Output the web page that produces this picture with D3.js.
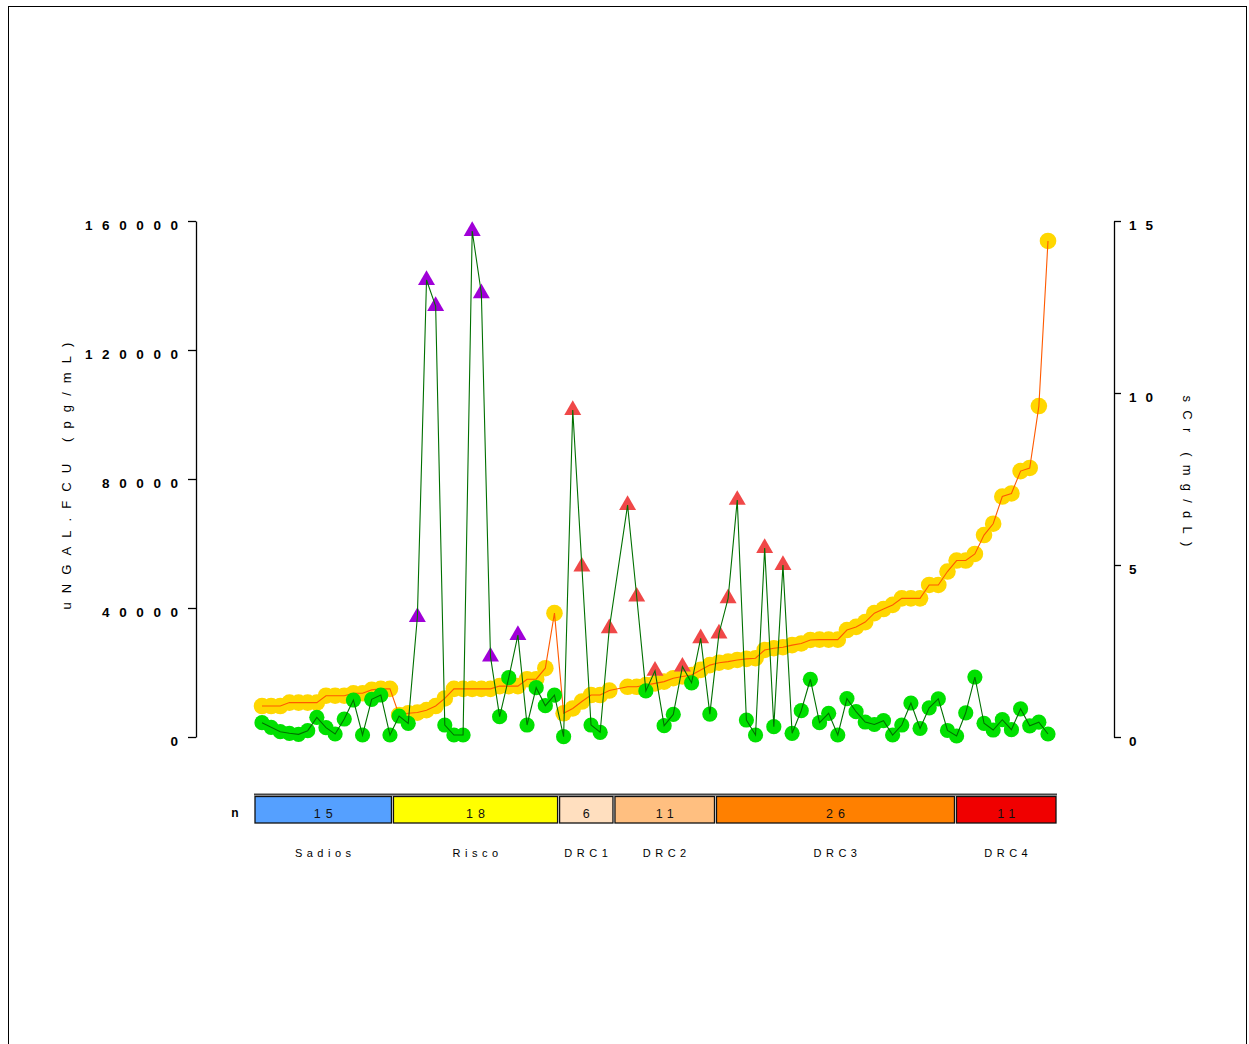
<!DOCTYPE html>
<html>
<head>
<meta charset="utf-8">
<script src="https://cdn.jsdelivr.net/npm/d3@7"></script>
<style>
  html, body { margin: 0; padding: 0; background: #fff; }
  svg { display: block; font-family: "Liberation Sans", Arial, sans-serif; }
</style>
</head>
<body>
<div id="chart"></div>
<script>
// Groups along the x strip
const groups = ["Sadios", "Risco", "DRC1", "DRC2", "DRC3", "DRC4"];
const groupCounts = [15, 18, 6, 11, 26, 11];
const groupColors = ["#55A0FF", "#FFFF00", "#FFDFBF", "#FFBF80", "#FF8000", "#F00000"];

// uNGAL.FCU (pg/mL), one per patient; null = missing
const ngal = [
  4430, 3000, 1650, 1140, 830, 1960, 6100, 2900, 930, 5580, 11470, 620, 11680, 13020, 620,
  6510, 4240, 37200, 141700, 133600, 3720, 620, 620, 156900, 137600, 24900, 6300, 18400, 31600, 3720, 15300, 9700, 13000,
  100, 101400, 52800, 3720, 1460, 33700,
  null, 71900, 43500, 14300, 20500, 3500, 7000, 21800, 16800, 30600, 7100,
  32100, 43000, 73500, 5270, 620, 58600, 3200, 53300, 1150, 8150, 17900, 4430, 7350, 620, 11900, 7840, 4650, 3880, 5050, 620,
  3720, 10540, 2640, 9050, 11840, 2020,
  310, 7500, 18600, 4250, 2170, 5360, 2260, 8740, 3470, 4590, 930
];

// sCr (mg/dL), same patients
const scr = [
  0.90, 0.90, 0.90, 1.00, 1.00, 1.00, 1.00, 1.20, 1.20, 1.20, 1.27, 1.27, 1.37, 1.40, 1.40,
  0.64, 0.69, 0.71, 0.78, 0.90, 1.12, 1.40, 1.40, 1.40, 1.40, 1.40, 1.48, 1.48, 1.48, 1.68, 1.68, 2.00, 3.60,
  0.69, 0.83, 1.03, 1.22, 1.22, 1.35,
  null, 1.46, 1.46, 1.51, 1.56, 1.61, 1.71, 1.76, 1.80, 1.95, 2.09,
  2.16, 2.19, 2.24, 2.27, 2.29, 2.53, 2.58, 2.61, 2.67, 2.72, 2.82, 2.83, 2.83, 2.83, 3.11, 3.20, 3.34, 3.60, 3.72, 3.84,
  4.03, 4.03, 4.03, 4.42, 4.42, 4.81,
  5.13, 5.13, 5.32, 5.87, 6.20, 6.99, 7.08, 7.73, 7.82, 9.62, 14.42
];

const ngalTicks = [0, 40000, 80000, 120000, 160000];
const scrTicks = [0, 5, 10, 15];
const ngalCutoff = 19500; // above this the point is drawn as a triangle

const width = 1249, height = 1044;
const svg = d3.select("#chart").append("svg").attr("width", width).attr("height", height);

// outer frame
svg.append("rect")
  .attr("x", 8.5).attr("y", 6.5).attr("width", 1238).attr("height", 1060)
  .attr("fill", "none").attr("stroke", "#000").attr("stroke-width", 1);

// patient index -> group
const groupOf = [];
groupCounts.forEach((n, g) => { for (let k = 0; k < n; k++) groupOf.push(g); });
const total = d3.sum(groupCounts);

const data = ngal.map((v, i) => ({ i, ngal: v, scr: scr[i], group: groupOf[i] }));

const x = d3.scaleLinear().domain([0, total - 1]).range([262, 1048]);
const yL = d3.scaleLinear().domain([0, 160000]).range([737, 221]);
const yR = d3.scaleLinear().domain([0, 15]).range([737, 221]);

function spaced(sel, ls) {
  return sel.style("letter-spacing", ls + "px");
}

// left axis
const axL = svg.append("g").attr("transform", "translate(196,0)")
  .call(d3.axisLeft(yL).tickValues(ngalTicks).tickSize(8).tickSizeOuter(0).tickPadding(10).tickFormat(d3.format("d")));
axL.select(".domain").attr("stroke", "#000").attr("stroke-width", 1.3);
axL.selectAll(".tick line").attr("stroke", "#000").attr("stroke-width", 1.3);
spaced(axL.selectAll(".tick text"), 9.6)
  .attr("font-size", 13.5).attr("font-weight", "bold").attr("fill", "#000")
  .attr("font-family", "Liberation Sans, Arial, sans-serif").attr("dx", 9.6).attr("dy", "0.6em");

// right axis
const axR = svg.append("g").attr("transform", "translate(1114,0)")
  .call(d3.axisRight(yR).tickValues(scrTicks).tickSize(7).tickSizeOuter(0).tickPadding(8));
axR.select(".domain").attr("stroke", "#000").attr("stroke-width", 1.3);
axR.selectAll(".tick text").attr("fill", "#000");
axR.selectAll(".tick line").attr("stroke", "#000").attr("stroke-width", 1.3);
spaced(axR.selectAll(".tick text"), 9)
  .attr("font-size", 13.5).attr("font-weight", "bold").attr("fill", "#000")
  .attr("font-family", "Liberation Sans, Arial, sans-serif").attr("dy", "0.6em");

// axis titles
spaced(svg.append("text"), 9.1)
  .attr("transform", "translate(71,476) rotate(-90)")
  .attr("text-anchor", "middle").attr("font-size", 13).attr("dx", 4.5)
  .text("uNGAL.FCU (pg/mL)");
spaced(svg.append("text"), 8.2)
  .attr("transform", "translate(1183,471) rotate(90)")
  .attr("text-anchor", "middle").attr("font-size", 13).attr("dx", 4)
  .text("sCr (mg/dL)");

// sCr series: yellow dots with orange line
const scrPts = data.filter(d => d.scr != null);
svg.append("g").selectAll("circle").data(scrPts).join("circle")
  .attr("cx", d => x(d.i)).attr("cy", d => yR(d.scr)).attr("r", 8.3)
  .attr("fill", "#FFD700");
svg.append("path").datum(scrPts)
  .attr("fill", "none").attr("stroke", "#FF5A00").attr("stroke-width", 1.1)
  .attr("d", d3.line().x(d => x(d.i)).y(d => yR(d.scr)));

// uNGAL series: green circles / triangles with dark green line
const ngalPts = data.filter(d => d.ngal != null);
const low = ngalPts.filter(d => d.ngal < ngalCutoff);
const high = ngalPts.filter(d => d.ngal >= ngalCutoff);
svg.append("g").selectAll("circle").data(low).join("circle")
  .attr("cx", d => x(d.i)).attr("cy", d => yL(d.ngal)).attr("r", 7.6)
  .attr("fill", "#00E000");
svg.append("g").selectAll("path").data(high).join("path")
  .attr("transform", d => `translate(${x(d.i)},${yL(d.ngal)})`)
  .attr("d", d3.symbol(d3.symbolTriangle, 125))
  .attr("fill", d => d.group === 1 ? "#A000D8" : "#F04848");
svg.append("path").datum(ngalPts)
  .attr("fill", "none").attr("stroke", "#007000").attr("stroke-width", 1.1)
  .attr("d", d3.line().x(d => x(d.i)).y(d => yL(d.ngal)));

// group strip under the plot
const xs = d3.scaleLinear().domain([0, total]).range([254, 1057]);
const starts = d3.cumsum([0, ...groupCounts]);
const strip = groups.map((g, k) => ({ name: g, n: groupCounts[k], color: groupColors[k], a: starts[k], b: starts[k + 1] }));

svg.append("line")
  .attr("x1", xs(0)).attr("x2", xs(total)).attr("y1", 794.5).attr("y2", 794.5)
  .attr("stroke", "#444").attr("stroke-width", 2);

svg.append("g").selectAll("rect").data(strip).join("rect")
  .attr("x", d => xs(d.a) + 1).attr("width", d => xs(d.b) - xs(d.a) - 2)
  .attr("y", 796.5).attr("height", 26.5)
  .attr("fill", d => d.color).attr("stroke", "#111").attr("stroke-width", 1.3);

spaced(svg.append("g").selectAll("text").data(strip).join("text"), 5)
  .attr("x", d => (xs(d.a) + xs(d.b)) / 2).attr("y", 817.5).attr("dx", 2.5)
  .attr("text-anchor", "middle").attr("font-size", 12.5).attr("fill", "#111")
  .text(d => d.n);

spaced(svg.append("g").selectAll("text").data(strip).join("text"), 4.5)
  .attr("x", d => (xs(d.a) + xs(d.b)) / 2).attr("y", 857).attr("dx", 2)
  .attr("text-anchor", "middle").attr("font-size", 11).attr("fill", "#000")
  .text(d => d.name);

svg.append("text")
  .attr("x", 235).attr("y", 817).attr("text-anchor", "middle")
  .attr("font-size", 12).attr("font-weight", "bold")
  .text("n");
</script>
</body>
</html>
